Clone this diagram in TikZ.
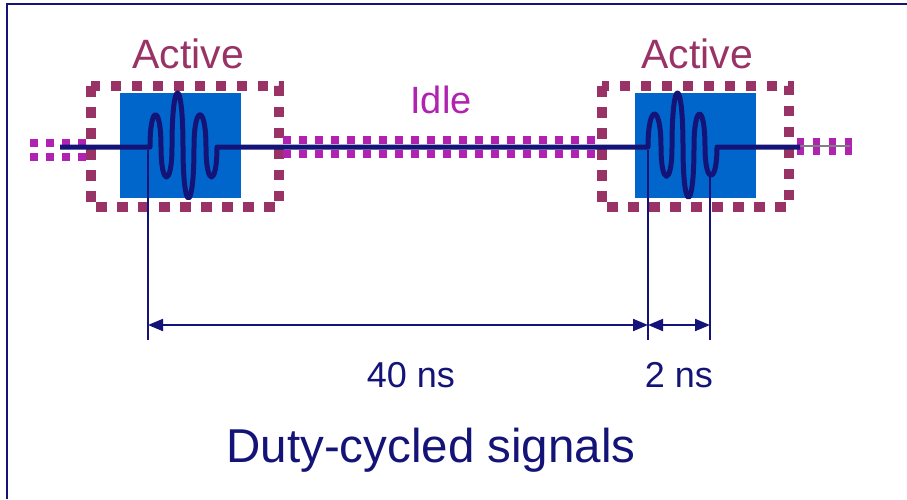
\documentclass[tikz,border=0pt]{standalone}
\usepackage{fontspec}
\setmainfont{Liberation Sans}
\usetikzlibrary{arrows.meta}
\definecolor{navy}{RGB}{20,20,120}
\definecolor{maroon}{RGB}{153,51,102}
\definecolor{magen}{RGB}{176,34,176}
\definecolor{boxblue}{RGB}{0,102,204}
\begin{document}
\begin{tikzpicture}[x=1pt,y=-1pt,
  activedots/.style={draw=maroon, line width=10.5pt, dash pattern=on 10.5pt off 10.5pt},
  idledots/.style={draw=magen, line width=7.5pt, dash pattern=on 7.5pt off 8.5pt},
  signal/.style={draw=navy, line width=5pt, line join=round},
  tickline/.style={draw=navy, line width=1.5pt},
  dim/.style={draw=navy, line width=2pt, {Triangle[length=15pt,width=12pt]}-{Triangle[length=15pt,width=12pt]}},
  lbl/.style={inner sep=0pt, anchor=base},
]
\useasboundingbox (0,0) rectangle (907,499);
\fill[white] (0,0) rectangle (907,499);
% frame
\draw[navy, line width=2.5pt] (7,499) -- (7,4) -- (907,4);
% blue boxes
\fill[boxblue] (120,93) rectangle (241,198);
\fill[boxblue] (635,93) rectangle (756,198);
% active dotted boxes
\draw[activedots] (91,86) rectangle (279,207);
\draw[activedots] (602,86) rectangle (789,207);
% idle dotted rows
\draw[idledots] (283,140) -- (598,140);
\draw[idledots] (283,154) -- (598,154);
\draw[idledots] (30,143) -- (90,143);
\draw[idledots] (30,157) -- (90,157);
\draw[draw=magen, line width=17pt, dash pattern=on 7pt off 9pt] (797,146) -- (852,146);
\draw[gray, line width=1.5pt] (800,146) -- (850,146);
% signal
\draw[signal] (60,147) -- (150,147)
  .. controls (150,104) and (161,104) .. (161,147)
  .. controls (161,187) and (172,187) .. (172,147)
  .. controls (172,75) and (183,75) .. (183,147)
  .. controls (183,215) and (194,215) .. (194,147)
  .. controls (194,104) and (206,104) .. (206,147)
  .. controls (206,187) and (217,187) .. (217,147)
  -- (648,147)
  .. controls (648,103) and (661,103) .. (661,147)
  .. controls (661,186) and (672,186) .. (672,147)
  .. controls (672,75) and (683,75) .. (683,147)
  .. controls (683,214) and (694,214) .. (694,147)
  .. controls (694,103) and (705,103) .. (705,147)
  .. controls (705,185) and (717,185) .. (717,147)
  -- (800,147);
% dimension ticks
\coordinate (t1a) at (148,150);
\coordinate (t1b) at (148,340);
\coordinate (t2a) at (648,150);
\coordinate (t2b) at (648,340);
\coordinate (t3a) at (710,175);
\coordinate (t3b) at (710,340);
\coordinate (d1) at (148,325);
\coordinate (d2) at (648,325);
\coordinate (d3) at (710,325);
\draw[tickline] (t1a) -- (t1b);
\draw[tickline] (t2a) -- (t2b);
\draw[tickline] (t3a) -- (t3b);
\draw[dim] (d1) -- (d2);
\draw[dim] (d2) -- (d3);
% labels
\node[lbl, text=maroon, font=\fontsize{41}{41}\selectfont] (act1) at (188,68) {Active};
\node[lbl, text=maroon, font=\fontsize{41}{41}\selectfont] (act2) at (697,68) {Active};
\node[lbl, text=magen, font=\fontsize{38}{38}\selectfont] (idle) at (441,113) {Idle};
\node[lbl, text=navy, font=\fontsize{36}{36}\selectfont] (t40) at (411,387) {40 ns};
\node[lbl, text=navy, font=\fontsize{36}{36}\selectfont] (t2) at (679,387) {2 ns};
\node[lbl, text=navy, font=\fontsize{47.5}{47.5}\selectfont] (title) at (431,462) {Duty-cycled signals};
\end{tikzpicture}
\end{document}
